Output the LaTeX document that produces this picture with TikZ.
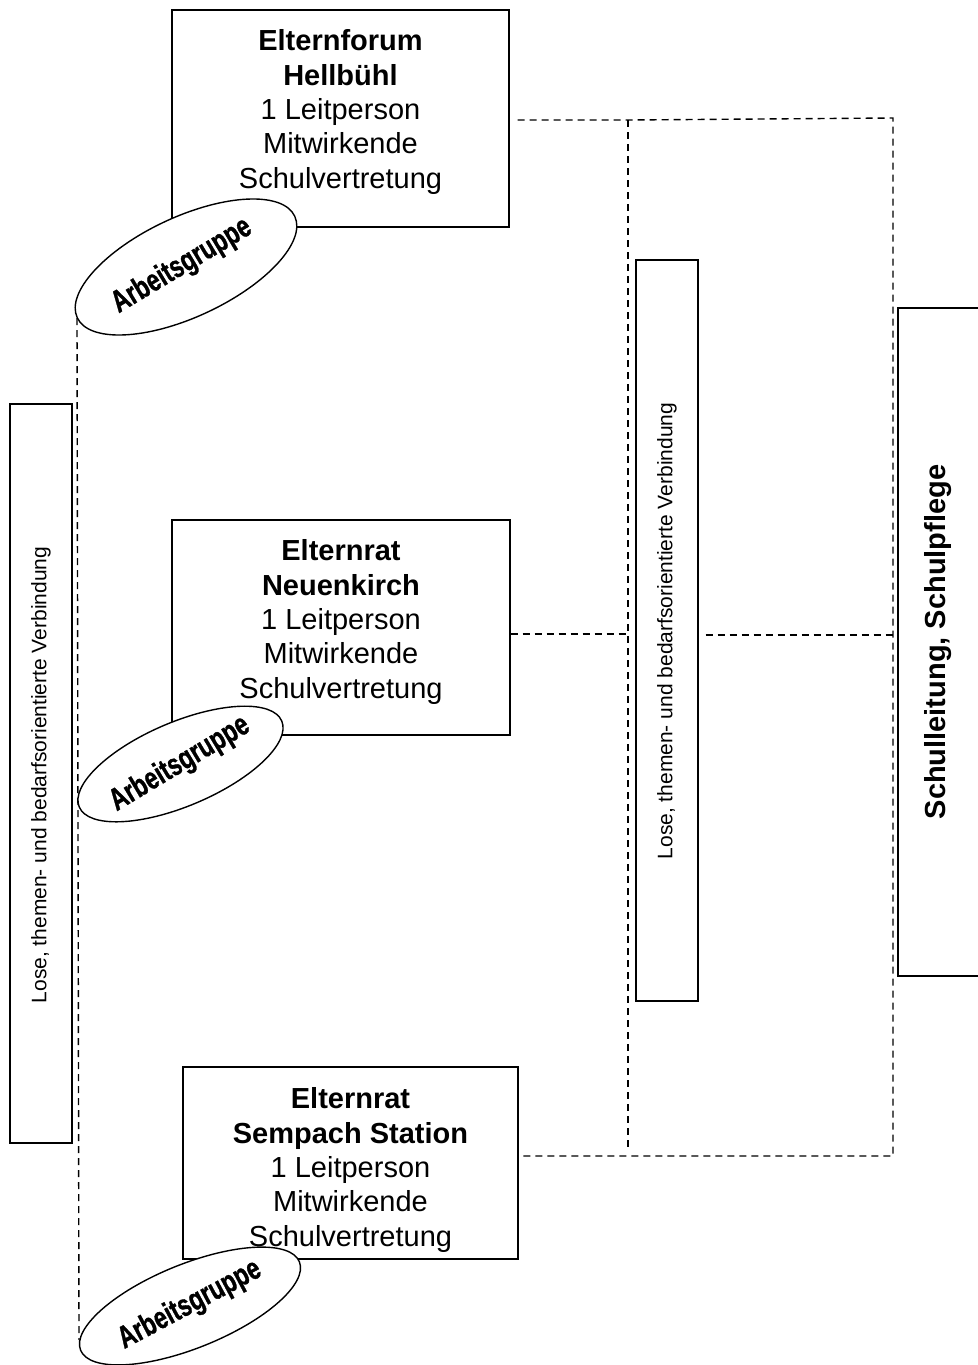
\documentclass[tikz,border=0pt]{standalone}
\usepackage{fontspec}
\setmainfont{Liberation Sans}
\newfontfamily\agfont[BoldFeatures={FakeBold=1.2}]{Liberation Sans}
\usetikzlibrary{shapes.geometric}
\begin{document}
\begin{tikzpicture}[x=1pt,y=-1pt,
  box/.style={draw,line width=1.4pt,rectangle,inner sep=0pt},
  boxtext/.style={align=center,font=\fontsize{29}{34.3}\selectfont,inner sep=0pt},
  vtext/.style={rotate=90,font=\fontsize{21}{25}\selectfont,inner sep=0pt},
  dl/.style={line width=1.4pt,dash pattern=on 7pt off 5pt},
  ag/.style={draw,ellipse,fill=white,line width=1.4pt,inner sep=0pt},
  agtext/.style={inner sep=0pt,font=\fontsize{23}{27}\agfont\bfseries}]
\useasboundingbox (0,0) rectangle (977,1365);
% boxes
\node[box,minimum width=337pt,minimum height=217pt] (b1) at (340.5,118.5) {};
\node[box,minimum width=338pt,minimum height=215pt] (b2) at (341,627.5) {};
\node[box,minimum width=335pt,minimum height=192pt] (b3) at (350.5,1163) {};
\node[box,minimum width=62pt,minimum height=739pt] (lbox) at (41,773.5) {};
\node[box,minimum width=62pt,minimum height=741pt] (mbox) at (667,630.5) {};
\node[box,minimum width=122pt,minimum height=668pt] (rbox) at (959,642) {};
% texts
\node[boxtext] (t1) at (340.5,112) {\textbf{Elternforum}\\\textbf{Hellbühl}\\1 Leitperson\\Mitwirkende\\Schulvertretung};
\node[boxtext] (t2) at (341,622) {\textbf{Elternrat}\\\textbf{Neuenkirch}\\1 Leitperson\\Mitwirkende\\Schulvertretung};
\node[boxtext] (t3) at (350.5,1170) {\textbf{Elternrat}\\\textbf{Sempach Station}\\1 Leitperson\\Mitwirkende\\Schulvertretung};
\node[vtext] (lt) at (41,775) {Lose, themen- und bedarfsorientierte Verbindung};
\node[vtext] (mt) at (667,631) {Lose, themen- und bedarfsorientierte Verbindung};
\node[rotate=90,inner sep=0pt,font=\fontsize{29}{34}\selectfont\bfseries] (rt) at (938,642) {Schulleitung, Schulpflege};
% dashed connectors
\coordinate (j1) at (628,120);
\coordinate (j2) at (893,118);
\coordinate (j3) at (628,634);
\coordinate (j4) at (893,635);
\coordinate (j5) at (628,1150);
\coordinate (j6) at (893,1156);
\coordinate (l1) at (77,318);
\coordinate (l2) at (79,1340);
\draw[dl,shorten <=8pt] (b1.east |- j1) -- (j1) -- (j2) -- (j6) -- (b3.east |- j6);
\draw[dl] (j1) -- (j5);
\draw[dl] (b2.east |- j3) -- (j3);
\draw[dl,shorten <=7pt] (mbox.east |- j4) -- (j4);
\draw[dl] (l1) -- (l2);
% ellipses
\node[ag,minimum width=240pt,minimum height=100pt,rotate=25] (e1) at (186,267) {};
\node[ag,minimum width=220pt,minimum height=84pt,rotate=23] (e2) at (180.5,764) {};
\node[ag,minimum width=236pt,minimum height=84pt,rotate=22] (e3) at (190,1306) {};
\node[agtext,rotate=31] (a1) at (182,266) {\scalebox{1}[1.35]{Arbeitsgruppe}};
\node[agtext,rotate=31] (a2) at (180,764) {\scalebox{1}[1.35]{Arbeitsgruppe}};
\node[agtext,rotate=28] (a3) at (190,1305) {\scalebox{1}[1.35]{Arbeitsgruppe}};
\end{tikzpicture}
\end{document}
